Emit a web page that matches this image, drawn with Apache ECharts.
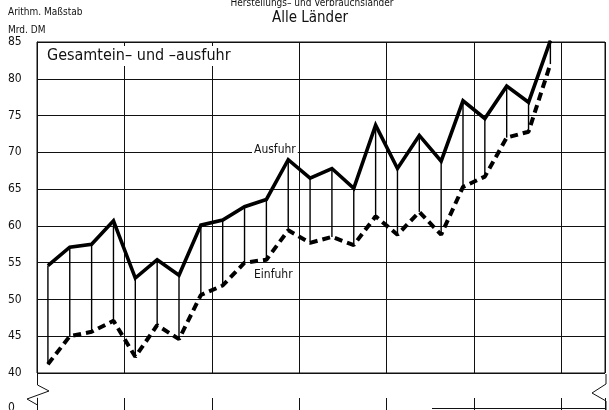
<!DOCTYPE html>
<html>
<head>
<meta charset="utf-8">
<script src="https://cdn.jsdelivr.net/npm/echarts@6/dist/echarts.min.js"></script>
<style>
html,body{margin:0;padding:0;background:#fff;}
#c{width:609px;height:410px;}
</style>
</head>
<body>
<div id="c"></div>
<script>
// Quarterly categories (4 per year), two trailing empty slots
var categories = ['J1 Q1','J1 Q2','J1 Q3','J1 Q4','J2 Q1','J2 Q2','J2 Q3','J2 Q4',
  'J3 Q1','J3 Q2','J3 Q3','J3 Q4','J4 Q1','J4 Q2','J4 Q3','J4 Q4',
  'J5 Q1','J5 Q2','J5 Q3','J5 Q4','J6 Q1','J6 Q2','J6 Q3','J6 Q4','J7 Q1','J7 Q2'];
// Ausfuhr (exports), Mrd. DM
var ausfuhr = [54.6, 57.1, 57.5, 60.7, 52.9, 55.4, 53.3, 60.1, 60.8, 62.6, 63.6, 69.0,
  66.5, 67.8, 65.1, 73.7, 67.8, 72.3, 68.8, 77.0, 74.6, 79.0, 76.8, 85.2];
// Einfuhr (imports), Mrd. DM
var einfuhr = [41.2, 45.0, 45.6, 47.1, 42.2, 46.5, 44.6, 50.6, 51.9, 55.0, 55.4, 59.4,
  57.7, 58.5, 57.4, 61.3, 58.8, 61.9, 58.8, 65.3, 66.7, 72.0, 72.8, 82.0];
var yTicks = [40, 45, 50, 55, 60, 65, 70, 75, 80, 85];

var FONT = "'Liberation Sans Narrow','DejaVu Sans Condensed',sans-serif";
var chart = echarts.init(document.getElementById('c'), null, {renderer: 'canvas'});

var hatch = [];
for (var i = 0; i < ausfuhr.length; i++) hatch.push([i, einfuhr[i], ausfuhr[i]]);

var option = {
  backgroundColor: '#fff',
  animation: false,
  grid: [
    {left: 37, right: 4, top: 42, bottom: 37, show: true, borderColor: '#111', borderWidth: 1},
    {left: 37, right: 4, top: 398, height: 12}
  ],
  xAxis: [
    {type: 'category', gridIndex: 0, data: categories, boundaryGap: true,
     axisLine: {show: false}, axisTick: {show: false}, axisLabel: {show: false},
     splitLine: {show: true, interval: 3, lineStyle: {color: '#111', width: 1}}},
    {type: 'category', gridIndex: 1, data: categories, boundaryGap: true,
     axisLine: {show: false}, axisTick: {show: false}, axisLabel: {show: false},
     splitLine: {show: true, interval: 3, lineStyle: {color: '#111', width: 1}}}
  ],
  yAxis: [
    {type: 'value', gridIndex: 0, min: yTicks[0], max: yTicks[yTicks.length - 1], interval: 5,
     axisLine: {show: true, lineStyle: {color: '#111', width: 1}}, axisTick: {show: false},
     axisLabel: {show: true, align: 'left', margin: 29, color: '#111', fontFamily: FONT, fontSize: 12},
     splitLine: {show: true, lineStyle: {color: '#111', width: 1}}},
    {type: 'value', gridIndex: 1, min: 0, max: 1, interval: 1,
     axisLine: {show: true, lineStyle: {color: '#111', width: 1}}, axisTick: {show: false},
     axisLabel: {show: false}, splitLine: {show: false}}
  ],
  series: [
    {
      type: 'custom', name: 'hatch', xAxisIndex: 0, yAxisIndex: 0,
      data: hatch, encode: {x: 0, y: [1, 2]}, silent: true, z: 2,
      renderItem: function (params, api) {
        var p1 = api.coord([api.value(0), api.value(1)]);
        var p2 = api.coord([api.value(0), api.value(2)]);
        return {type: 'line', shape: {x1: p1[0], y1: p1[1], x2: p2[0], y2: p2[1]},
                style: {stroke: '#000', lineWidth: 1.4}};
      }
    },
    {
      type: 'line', name: 'Ausfuhr', data: ausfuhr, symbol: 'none', z: 4,
      lineStyle: {color: '#000', width: 3.6, join: 'miter'}
    },
    {
      type: 'line', name: 'Einfuhr', data: einfuhr, symbol: 'none', z: 4,
      lineStyle: {color: '#000', width: 4, type: [8, 5], cap: 'butt'}
    }
  ],
  graphic: [
    {type: 'text', style: {text: 'Herstellungs– und Verbrauchsländer', x: 312, y: 3, align: 'center', verticalAlign: 'middle',
      font: '10px ' + FONT, fill: '#111'}},
    {type: 'text', style: {text: 'Alle Länder', x: 310, y: 18, align: 'center', verticalAlign: 'middle',
      font: '15px ' + FONT, fill: '#111'}},
    {type: 'text', style: {text: 'Arithm. Maßstab', x: 8, y: 12, align: 'left', verticalAlign: 'middle',
      font: '10px ' + FONT, fill: '#111'}},
    {type: 'text', style: {text: 'Mrd. DM', x: 8, y: 30, align: 'left', verticalAlign: 'middle',
      font: '10px ' + FONT, fill: '#111'}},
    {type: 'text', z: 10, style: {text: 'Gesamtein– und –ausfuhr', x: 46, y: 56, align: 'left', verticalAlign: 'middle',
      font: '16px ' + FONT, fill: '#111', backgroundColor: '#fff', padding: [2, 1, 2, 1]}},
    {type: 'text', z: 10, style: {text: 'Ausfuhr', x: 252, y: 150, align: 'left', verticalAlign: 'middle',
      font: '12px ' + FONT, fill: '#111', backgroundColor: '#fff', padding: [1, 2, 1, 2]}},
    {type: 'text', z: 10, style: {text: 'Einfuhr', x: 254, y: 275, align: 'left', verticalAlign: 'middle',
      font: '12px ' + FONT, fill: '#111'}},
    {type: 'text', z: 10, style: {text: '0', x: 8, y: 408, align: 'left', verticalAlign: 'middle',
      font: '12px ' + FONT, fill: '#111'}},
    // axis break symbols
    {type: 'rect', z: 9, shape: {x: 30, y: 374.5, width: 20, height: 23}, style: {fill: '#fff'}},
    {type: 'polyline', z: 10, shape: {points: [[37.5, 374], [37.5, 385], [49, 391], [27, 399], [37.5, 405], [37.5, 410]]},
      style: {stroke: '#111', lineWidth: 1, fill: null}},
    {type: 'polyline', z: 10, shape: {points: [[606, 374], [606, 384], [592, 393], [606, 401], [606, 410]]},
      style: {stroke: '#111', lineWidth: 1, fill: null}},
    {type: 'line', z: 10, shape: {x1: 432, y1: 408.5, x2: 606, y2: 408.5}, style: {stroke: '#111', lineWidth: 1}}
  ]
};
chart.setOption(option);
</script>
</body>
</html>
